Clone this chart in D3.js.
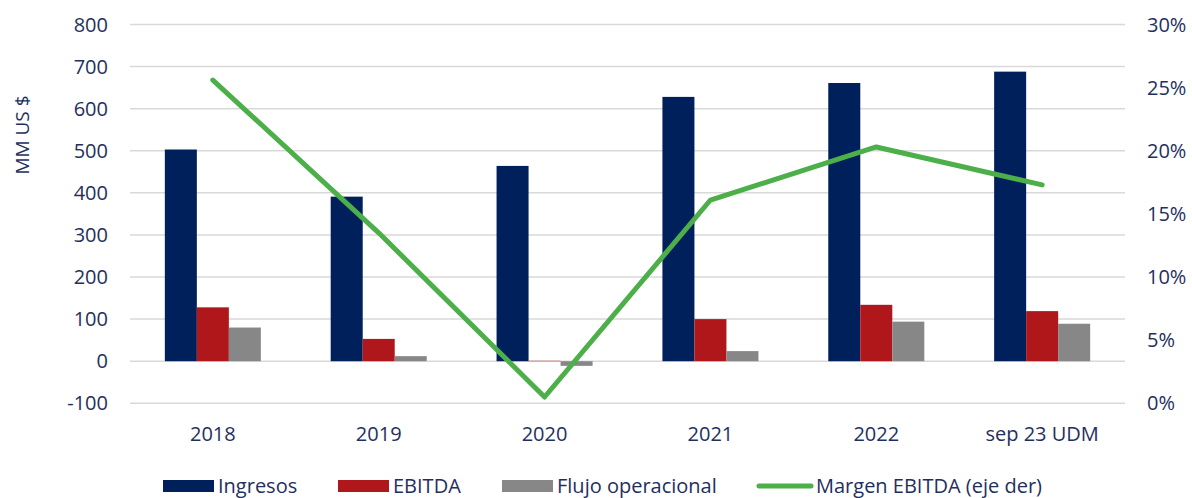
<!DOCTYPE html>
<html>
<head>
<meta charset="utf-8">
<script src="https://cdn.jsdelivr.net/npm/d3@7"></script>
<style>
  body { margin: 0; background: #fff; }
  svg { display: block; font-family: "Open Sans", "Noto Sans", sans-serif; }
</style>
</head>
<body>
<svg id="chart" width="1192" height="498"></svg>
<script>
// data
const categories = ["2018", "2019", "2020", "2021", "2022", "sep 23 UDM"];
const ingresos = [503, 391, 464, 628, 661, 688];
const ebitda = [128, 53, 1, 100, 134, 119];
const flujo = [80, 12, -11, 24, 94, 89];
const margen = [0.256, 0.135, 0.005, 0.161, 0.203, 0.173];
const leftTicks = [-100, 0, 100, 200, 300, 400, 500, 600, 700, 800];
const rightTicks = [0, 0.05, 0.10, 0.15, 0.20, 0.25, 0.30];

const barSeries = [
    { name: "Ingresos", values: ingresos, color: "#00205b" },
    { name: "EBITDA", values: ebitda, color: "#af171b" },
    { name: "Flujo operacional", values: flujo, color: "#878787" }
];
const lineColor = "#4caf49";
const textColor = "#1f2f5e";

const svg = d3.select("#chart");
const plot = { left: 130, right: 1125, top: 24.5, bottom: 403.3 };

const x = d3.scaleBand()
    .domain(categories)
    .range([plot.left, plot.right])
    .paddingInner(0.421)
    .paddingOuter(0.21);

const xSub = d3.scaleBand()
    .domain(barSeries.map(s => s.name))
    .range([0, x.bandwidth()]);

const yLeft = d3.scaleLinear().domain([-100, 800]).range([plot.bottom, plot.top]);
const yRight = d3.scaleLinear().domain([0, 0.30]).range([plot.bottom, plot.top]);

// gridlines
svg.append("g")
    .selectAll("line")
    .data(leftTicks)
    .enter().append("line")
    .attr("x1", plot.left)
    .attr("x2", plot.right)
    .attr("y1", d => yLeft(d))
    .attr("y2", d => yLeft(d))
    .attr("stroke", "#d9d9d9")
    .attr("stroke-width", 1.5);

// bars
const groups = svg.append("g")
    .selectAll("g")
    .data(barSeries)
    .enter().append("g")
    .attr("fill", d => d.color);

groups.selectAll("rect")
    .data(s => s.values.map((v, i) => ({ name: s.name, cat: categories[i], v })))
    .enter().append("rect")
    .attr("x", d => x(d.cat) + xSub(d.name))
    .attr("width", xSub.bandwidth())
    .attr("y", d => yLeft(Math.max(0, d.v)))
    .attr("height", d => Math.abs(yLeft(d.v) - yLeft(0)));

// margin line
const line = d3.line()
    .x((d, i) => x(categories[i]) + x.bandwidth() / 2)
    .y(d => yRight(d));

svg.append("path")
    .datum(margen)
    .attr("d", line)
    .attr("fill", "none")
    .attr("stroke", lineColor)
    .attr("stroke-width", 5)
    .attr("stroke-linecap", "round")
    .attr("stroke-linejoin", "round");

// left axis labels
svg.append("g")
    .selectAll("text")
    .data(leftTicks)
    .enter().append("text")
    .attr("x", 108)
    .attr("y", d => yLeft(d))
    .attr("dy", "0.35em")
    .attr("text-anchor", "end")
    .attr("font-size", 20)
    .attr("fill", textColor)
    .text(d => d);

// right axis labels
svg.append("g")
    .selectAll("text")
    .data(rightTicks)
    .enter().append("text")
    .attr("x", 1147)
    .attr("y", d => yRight(d))
    .attr("dy", "0.35em")
    .attr("font-size", 20)
    .attr("fill", textColor)
    .text(d => d3.format(".0%")(d));

// category labels
svg.append("g")
    .selectAll("text")
    .data(categories)
    .enter().append("text")
    .attr("x", d => x(d) + x.bandwidth() / 2)
    .attr("y", 441)
    .attr("text-anchor", "middle")
    .attr("font-size", 20)
    .attr("fill", textColor)
    .text(d => d);

// y axis title
svg.append("text")
    .attr("transform", "translate(29,135) rotate(-90)")
    .attr("text-anchor", "middle")
    .attr("font-size", 19)
    .attr("fill", textColor)
    .text("MM US $");

// legend
const legendItems = [
    { name: "Ingresos", color: barSeries[0].color, type: "rect", x: 163 },
    { name: "EBITDA", color: barSeries[1].color, type: "rect", x: 338 },
    { name: "Flujo operacional", color: barSeries[2].color, type: "rect", x: 502 },
    { name: "Margen EBITDA (eje der)", color: lineColor, type: "line", x: 757 }
];

const legend = svg.append("g")
    .selectAll("g")
    .data(legendItems)
    .enter().append("g")
    .attr("transform", d => `translate(${d.x},486)`);

legend.filter(d => d.type === "rect").append("rect")
    .attr("x", 0)
    .attr("y", -6)
    .attr("width", 51)
    .attr("height", 12)
    .attr("fill", d => d.color);

legend.filter(d => d.type === "line").append("line")
    .attr("x1", 2)
    .attr("x2", 54)
    .attr("y1", 0)
    .attr("y2", 0)
    .attr("stroke", d => d.color)
    .attr("stroke-width", 5)
    .attr("stroke-linecap", "round");

legend.append("text")
    .attr("x", d => d.type === "line" ? 59 : 55)
    .attr("y", 0)
    .attr("dy", "0.35em")
    .attr("font-size", 20)
    .attr("fill", textColor)
    .text(d => d.name);
</script>
</body>
</html>
